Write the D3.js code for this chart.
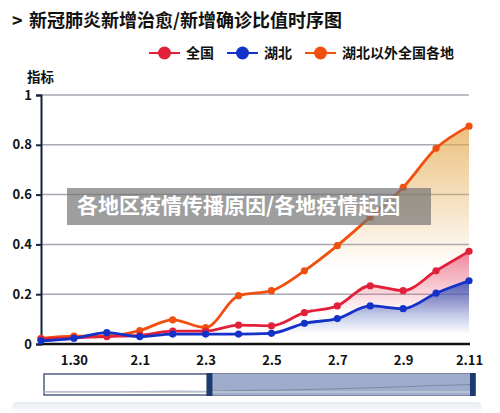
<!DOCTYPE html>
<html>
<head>
<meta charset="utf-8">
<script src="https://cdn.jsdelivr.net/npm/d3@7/dist/d3.min.js"></script>
<style>
  body { margin: 0; background: #fff; }
  text { font-family: "Noto Sans CJK SC", "Noto Sans", sans-serif; }
</style>
</head>
<body>
<div class="canvas"></div>
<script>
// data
const dates = ["1.29","1.30","1.31","2.1","2.2","2.3","2.4","2.5","2.6","2.7","2.8","2.9","2.10","2.11"];
const tickDates = ["1.30","2.1","2.3","2.5","2.7","2.9","2.11"];
const quanguo = [0.02,0.025,0.03,0.035,0.052,0.052,0.076,0.073,0.126,0.153,0.234,0.214,0.294,0.372];
const hubei = [0.013,0.023,0.046,0.03,0.04,0.04,0.04,0.043,0.083,0.102,0.153,0.142,0.204,0.254];
const outside = [0.023,0.032,0.032,0.054,0.097,0.066,0.194,0.214,0.294,0.395,0.51,0.629,0.786,0.875];
const yTicks = [0,0.2,0.4,0.6,0.8,1];
const seriesNames = ["全国","湖北","湖北以外全国各地"];
const seriesColors = ["#e3203a","#1432c8","#f0500f"];

const dims = {width: 500, height: 413};
const svg = d3.select(".canvas").append("svg")
  .attr("width", dims.width)
  .attr("height", dims.height);

const x = d3.scalePoint().domain(dates).range([41, 469]);
const y = d3.scaleLinear().domain([0, 1]).range([344, 95]);

// gradients
const defs = svg.append("defs");
const grad = (id, y1, y2, col, op) => {
  const g = defs.append("linearGradient").attr("id", id)
    .attr("gradientUnits", "userSpaceOnUse")
    .attr("x1", 0).attr("x2", 0).attr("y1", y(y1)).attr("y2", y(y2));
  g.append("stop").attr("offset", 0).attr("stop-color", col).attr("stop-opacity", op);
  g.append("stop").attr("offset", 1).attr("stop-color", col).attr("stop-opacity", 0);
};
grad("gOut", 0.85, 0.3, "#e4a94e", 0.7);
grad("gQg", 0.37, 0.12, "#e8607a", 0.75);
grad("gHb", 0.25, 0.04, "#3a55b4", 0.85);

// title
svg.append("text").attr("x", 12).attr("y", 27)
  .attr("font-size", 18).attr("font-weight", "bold").attr("fill", "#111").text(">");
svg.append("text").attr("x", 29).attr("y", 27)
  .attr("font-size", 18).attr("font-weight", "bold").attr("fill", "#111")
  .text("新冠肺炎新增治愈/新增确诊比值时序图");

// legend
const legend = svg.append("g").attr("transform", "translate(0,53)");
const legendX = [149, 227, 305];
seriesNames.forEach((name, i) => {
  const g = legend.append("g").attr("transform", `translate(${legendX[i]},0)`);
  g.append("line").attr("x1", 0).attr("x2", 31).attr("stroke", seriesColors[i]).attr("stroke-width", 2);
  g.append("circle").attr("cx", 15.5).attr("r", 6.5).attr("fill", seriesColors[i]);
  g.append("text").attr("x", 37).attr("y", 5)
    .attr("font-size", 14).attr("font-weight", "bold").attr("fill", "#111").text(name);
});

// y label
svg.append("text").attr("x", 27).attr("y", 82)
  .attr("font-size", 13.5).attr("font-weight", "bold").attr("fill", "#111").text("指标");

// grid
svg.append("g").selectAll("line").data(yTicks.filter(d => d > 0)).join("line")
  .attr("x1", 41).attr("x2", 469)
  .attr("y1", d => y(d)).attr("y2", d => y(d))
  .attr("stroke", "#a6a9b4").attr("stroke-width", 1.5);

// areas
const curve = d3.curveMonotoneX;
const area = vals => d3.area().curve(curve)
  .x((d, i) => x(dates[i])).y0(y(0)).y1(d => y(d))(vals);
svg.append("path").attr("d", area(outside)).attr("fill", "url(#gOut)");
svg.append("path").attr("d", area(quanguo)).attr("fill", "url(#gQg)");
svg.append("path").attr("d", area(hubei)).attr("fill", "url(#gHb)");

// y axis
const yAxis = svg.append("g").attr("transform", "translate(41,0)")
  .call(d3.axisLeft(y).tickValues(yTicks).tickFormat(d => d === 0 ? "0" : d3.format("~g")(d)).tickSize(5));
yAxis.select(".domain").attr("stroke", "#15223a").attr("stroke-width", 2);
yAxis.selectAll(".tick line").attr("stroke", "#15223a").attr("stroke-width", 2);
yAxis.selectAll("text").attr("font-size", 13).attr("font-weight", "bold").attr("fill", "#111")
  .attr("font-family", "Liberation Sans, Arial, sans-serif").attr("dx", -1);

// x axis
const xAxis = svg.append("g").attr("transform", "translate(0,344)")
  .call(d3.axisBottom(x).tickValues(tickDates).tickSize(0).tickPadding(12));
xAxis.select(".domain").attr("d", "M41,0H470").attr("stroke", "#111").attr("stroke-width", 2.5);
xAxis.selectAll("text").attr("font-size", 13).attr("font-weight", "bold").attr("fill", "#111")
  .attr("font-family", "Liberation Sans, Arial, sans-serif");

// lines + points
const line = d3.line().curve(curve).x((d, i) => x(dates[i])).y(d => y(d));
[outside, quanguo, hubei].forEach((vals, k) => {
  const col = seriesColors[[2, 0, 1][k]];
  svg.append("path").attr("d", line(vals)).attr("fill", "none")
    .attr("stroke", col).attr("stroke-width", 2.8);
  svg.append("g").selectAll("circle").data(vals).join("circle")
    .attr("cx", (d, i) => x(dates[i])).attr("cy", d => y(d))
    .attr("r", 3.6).attr("fill", col);
});

// slider
const slider = svg.append("g");
const miniY = d3.scaleLinear().domain([0, 1]).range([392, 378]);
const sx = d3.scalePoint().domain(dates).range([45, 470]);
slider.append("rect").attr("x", 44).attr("y", 374).attr("width", 431).attr("height", 21)
  .attr("fill", "#fff").attr("stroke", "#24375e").attr("stroke-width", 1.2);
slider.append("rect").attr("x", sx("2.3")).attr("y", 374).attr("width", 470 - sx("2.3")).attr("height", 21)
  .attr("fill", "#9eabcb");
slider.append("path")
  .attr("d", d3.line().curve(curve).x((d, i) => sx(dates[i])).y(d => miniY(d * 0.6))(outside))
  .attr("fill", "none").attr("stroke", "#7d8aa6").attr("stroke-width", 1);
slider.append("line").attr("x1", 44).attr("x2", 475).attr("y1", 392).attr("y2", 392)
  .attr("stroke", "#c3c8d4").attr("stroke-width", 1.5);
slider.append("rect").attr("x", sx("2.3") - 2).attr("y", 373).attr("width", 6).attr("height", 23).attr("fill", "#1b3a6e");
slider.append("rect").attr("x", 470).attr("y", 373).attr("width", 5.5).attr("height", 23).attr("fill", "#1b3a6e");

// bottom shadow
const sh = defs.append("linearGradient").attr("id", "gSh").attr("x1", 0).attr("x2", 0).attr("y1", 0).attr("y2", 1);
sh.append("stop").attr("offset", 0).attr("stop-color", "#e4e8f0").attr("stop-opacity", 0.9);
sh.append("stop").attr("offset", 1).attr("stop-color", "#f4f6fa").attr("stop-opacity", 0.4);
svg.append("rect").attr("x", 12).attr("y", 402).attr("width", 470).attr("height", 11).attr("rx", 5).attr("fill", "url(#gSh)");

// overlay banner
svg.append("rect").attr("x", 67).attr("y", 188).attr("width", 364).attr("height", 37)
  .attr("fill", "#707070").attr("fill-opacity", 0.68);
svg.append("text").attr("x", 77).attr("y", 213)
  .attr("font-size", 21).attr("font-weight", "bold").attr("fill", "#fff")
  .text("各地区疫情传播原因/各地疫情起因");
</script>
</body>
</html>
